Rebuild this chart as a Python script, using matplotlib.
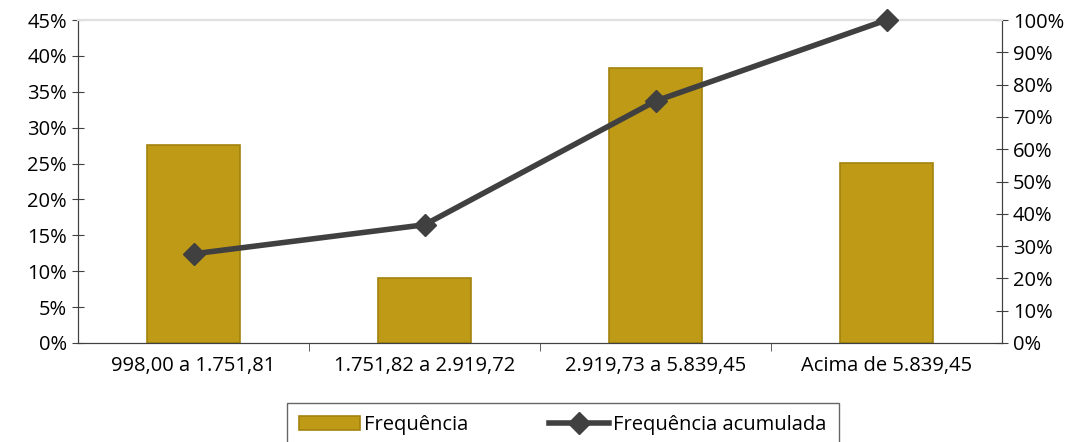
import matplotlib
matplotlib.use("Agg")
import matplotlib.pyplot as plt
from matplotlib.ticker import FixedLocator, PercentFormatter

categorias = ["998,00 a 1.751,81", "1.751,82 a 2.919,72", "2.919,73 a 5.839,45", "Acima de 5.839,45"]
frequencia = [27.6, 9.0, 38.3, 25.1]
acumulada = [27.6, 36.6, 74.9, 100.0]

plt.rcParams["font.family"] = ["Open Sans", "DejaVu Sans"]
plt.rcParams["font.size"] = 14.5

fig = plt.figure(figsize=(10.89, 4.42), dpi=100)
ax = fig.add_axes([78 / 1089, 1 - 343 / 442, 924 / 1089, 323 / 442])
ax2 = ax.twinx()

x = range(len(categorias))
ax.bar(x, frequencia, width=0.4, color="#BF9A17", edgecolor="#A3830F", linewidth=1.2,
       label="Frequência", zorder=2)
ax2.plot(x, acumulada, color="#404040", linewidth=4, marker="D", markersize=11,
         label="Frequência acumulada", zorder=3, clip_on=False)

ax.set_xlim(-0.5, 3.5)
ax.set_ylim(0, 45)
ax2.set_ylim(0, 100)
ax.set_yticks(range(0, 46, 5))
ax2.set_yticks(range(0, 101, 10))
ax.yaxis.set_major_formatter(PercentFormatter(decimals=0))
ax2.yaxis.set_major_formatter(PercentFormatter(decimals=0))

ax.set_xticks(list(x))
ax.set_xticklabels(categorias)
ax.xaxis.set_minor_locator(FixedLocator([0.5, 1.5, 2.5]))
ax.tick_params(axis="x", which="major", length=0, pad=9, colors="#000000")
ax.tick_params(axis="x", which="minor", length=6, color="#404040")
ax.tick_params(axis="y", direction="inout", length=8, color="#404040", labelcolor="#000000", pad=4)
ax2.tick_params(axis="y", direction="inout", length=8, color="#404040", labelcolor="#000000", pad=4)

for a in (ax, ax2):
    a.spines["top"].set_color("#E0E0E0")
    a.spines["top"].set_linewidth(1.5)
    a.spines["left"].set_color("#404040")
    a.spines["right"].set_color("#404040")
    a.spines["bottom"].set_color("#404040")

ax.set_zorder(ax2.get_zorder() - 1)
ax.patch.set_visible(True)
ax2.patch.set_visible(False)

h1, l1 = ax.get_legend_handles_labels()
h2, l2 = ax2.get_legend_handles_labels()
leg = fig.legend(h1 + h2, l1 + l2, loc="upper center", bbox_to_anchor=(563 / 1089, 1 - 403 / 442),
                 ncol=2, frameon=True, fancybox=False, edgecolor="#404040",
                 handlelength=3.0, columnspacing=4.0, handletextpad=0.2,
                 borderpad=0.6, borderaxespad=0)
leg.get_frame().set_linewidth(1.0)

fig.savefig("out.png", dpi=100)
